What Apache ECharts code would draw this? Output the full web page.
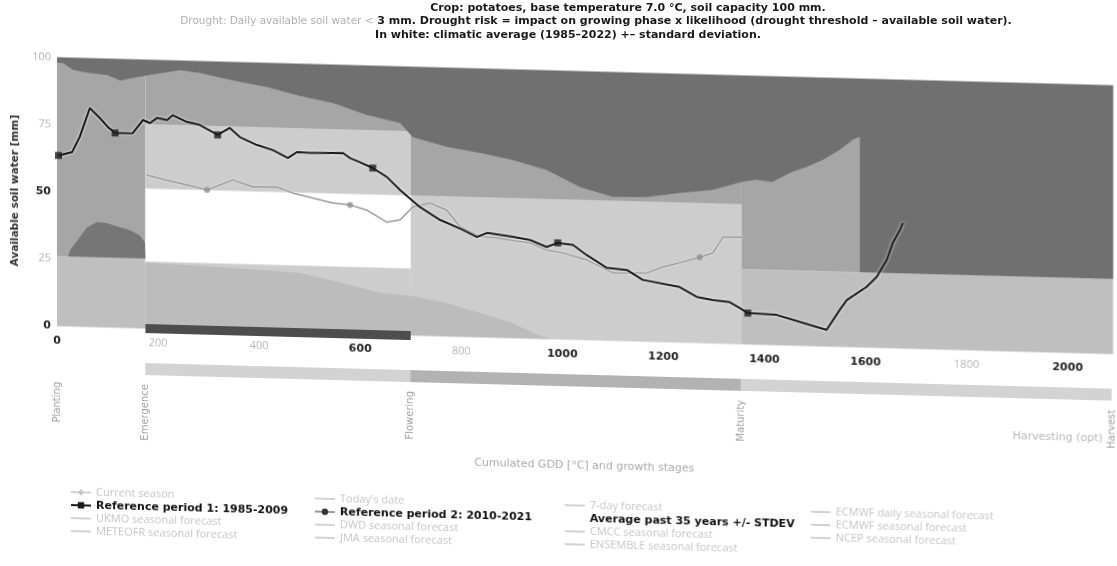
<!DOCTYPE html>
<html><head><meta charset="utf-8">
<script src="https://cdn.jsdelivr.net/npm/echarts@6/dist/echarts.min.js"></script>
<style>
html,body{margin:0;padding:0;background:#fff;overflow:hidden}
#c{width:1117px;height:566px;transform:skewY(1.52deg);transform-origin:558.5px 283px}
#t{position:absolute;left:0;top:0;width:1117px;height:48px;pointer-events:none}
</style>
</head><body><div id="c"></div><div id="t"></div>
<script>
// ---------- data ----------
const titleLine1 = 'Crop: potatoes, base temperature 7.0 °C, soil capacity 100 mm.';
const titleLine2a = 'Drought: Daily available soil water <';
const titleLine2b = ' 3 mm. Drought risk = impact on growing phase x likelihood (drought threshold – available soil water).';
const titleLine3 = 'In white: climatic average (1985–2022) +– standard deviation.';
const yAxisName = 'Available soil water [mm]';
const xAxisName = 'Cumulated GDD [°C] and growth stages';
const harvestNote = 'Harvesting (opt)';

const stageNames = ['Planting', 'Emergence', 'Flowering', 'Maturity', 'Harvest'];
const stageGDD = [0, 175, 700, 1355, 2090];

// [fromGDD, toGDD, lowMM, highMM, riskLevel]
const riskBands = [
  [0, 175, 0, 26, 2], [0, 175, 26, 100, 3],
  [175, 700, 0, 25, 1], [175, 700, 25, 52, 0], [175, 700, 52, 76, 1], [175, 700, 76, 100, 3],
  [700, 1355, 0, 52, 1], [700, 1355, 52, 100, 3],
  [1355, 2090, 0, 28, 2], [1355, 2090, 28, 100, 3]
];
// [fromGDD, toGDD, level]
const stageBar = [[175, 700, 1], [700, 1355, 3], [1355, 2090, 1]];

const upperEnvelope = [[0,98],[12,97.9],[32,95.4],[60,94.5],[99,93.9],[125,91.9],[150,93],[184,94.3],[243,96.4],[283,95.5],[350,93],[415,91],[480,88],[546,85.7],[613,81.6],[679,78.9],[704,73.8],[771,70.5],[837,68.6],[902,66.3],[969,62.9],[1035,56.9],[1100,53.5],[1167,53.8],[1232,55.7],[1298,57.2],[1357,60.5],[1385,61.3],[1416,60.7],[1450,64.2],[1484,66.6],[1515,69.3],[1549,73.2],[1575,77.2],[1589,78.3],[1589,28],[2090,28]];
const lowerEnvelope = [[175,24.5],[260,24],[350,23.4],[480,22.2],[580,18.2],[640,15.5],[700,14.8],[771,12.5],[837,9.1],[902,5.7],[950,1.5],[980,0]];
const emergenceHump = [[22,26],[26,28.4],[40,32],[59,36.9],[79,39.1],[99,38.8],[125,37.4],[144,36.4],[164,34.6],[174,32],[175,26]];
const humpBase = 26;

const refPeriod1 = [[3,63.5],[30,64.9],[45,70.6],[65,81.4],[85,77.8],[101,74.5],[115,72.4],[150,72.5],[170,77.5],[184,76.4],[198,78.4],[218,77.7],[229,79.6],[257,77.2],[283,76.2],[318,72.7],[342,75.4],[362,72.1],[396,69.3],[427,67.6],[457,64.8],[475,67.1],[500,66.9],[566,67.2],[580,65.4],[599,64],[625,61.9],[653,58.7],[679,54],[718,47.9],[758,43.3],[803,39.8],[831,37.3],[851,38.9],[902,37.7],[936,36.7],[969,34.3],[991,35.9],[1021,35.3],[1048,31.7],[1088,27.1],[1128,26.5],[1159,23],[1232,20.7],[1266,17.2],[1298,16.2],[1331,15.6],[1351,13.5],[1367,11.7],[1424,11.3],[1470,8.9],[1523,6.2],[1549,13.8],[1563,17.5],[1602,22.6],[1622,26.4],[1642,32.8],[1654,39.2],[1668,44.1],[1674,46.7]];
const refPeriod1Markers = [[3,63.5],[115,72.4],[318,72.7],[625,61.9],[991,35.9],[1367,11.7]];
const refPeriod2 = [[178,57.1],[218,55.3],[257,53.8],[297,52.1],[348,56.1],[388,53.7],[435,53.9],[467,51.8],[506,50.2],[546,48.5],[580,48],[613,46.2],[653,41.9],[679,42.9],[704,47.8],[738,49.5],[771,47],[797,41.1],[837,37.5],[870,37.2],[936,35.6],[969,33.2],[1001,32.2],[1048,29.9],[1100,25.3],[1167,25.6],[1199,28],[1232,29.7],[1272,32],[1298,33.7],[1318,39.7],[1357,39.9]];
const refPeriod2Markers = [[297,52.1],[580,48],[1272,32]];
const droughtPhase = [[175,0],[700,0]];

const legendCols = [
  ['Current season', 'Reference period 1: 1985-2009', 'UKMO seasonal forecast', 'METEOFR seasonal forecast'],
  ["Today's date", 'Reference period 2: 2010-2021', 'DWD seasonal forecast', 'JMA seasonal forecast'],
  ['7-day forecast', 'Average past 35 years +/- STDEV', 'CMCC seasonal forecast', 'ENSEMBLE seasonal forecast'],
  ['ECMWF daily seasonal forecast', 'ECMWF seasonal forecast', 'NCEP seasonal forecast']
];
const activeSeries = ['Reference period 1: 1985-2009', 'Reference period 2: 2010-2021', 'Average past 35 years +/- STDEV'];

// ---------- styles ----------
const FONT = '"Open Sans", "DejaVu Sans", sans-serif';
const FONT_B = '"DejaVu Sans", sans-serif';
const bandColors = ['#ffffff', '#cdcdcd', '#bfbfbf', '#a6a6a6', '#707070'];
const barColors = ['#ffffff', '#d3d3d3', '#c4c4c4', '#b2b2b2'];
const fadedXTicks = [200, 400, 800, 1800];
const fadedYTicks = [25, 75, 100];
const legendLeft = [70, 314, 564, 810];
const GDD_MAX = 2090;

function bandItem(params, api) {
  const p0 = api.coord([api.value(0), api.value(3)]);
  const p1 = api.coord([api.value(1), api.value(2)]);
  return {type: 'rect', shape: {x: p0[0], y: p0[1], width: p1[0] - p0[0], height: p1[1] - p0[1]},
    style: {fill: bandColors[api.value(4)]}};
}
function barItem(params, api) {
  const p0 = api.coord([api.value(0), 1]);
  const p1 = api.coord([api.value(1), 0]);
  return {type: 'rect', shape: {x: p0[0], y: p0[1], width: p1[0] - p0[0], height: p1[1] - p0[1]},
    style: {fill: barColors[api.value(2)]}};
}

const emptySeries = [];
legendCols.flat().forEach(n => {
  if (n === 'Reference period 1: 1985-2009' || n === 'Reference period 2: 2010-2021') return;
  emptySeries.push({
    name: n, type: 'line', data: [],
    symbol: n === 'Current season' ? 'diamond' : (n === 'Average past 35 years +/- STDEV' ? 'circle' : 'line'),
    color: n === 'Average past 35 years +/- STDEV' ? '#ffffff' : '#555'
  });
});

// ---------- title layer (not skewed) ----------
const boldTitle = {fontFamily: FONT_B, fontWeight: 'bold', fontSize: 11, color: '#1a1a1a', lineHeight: 13};
const titleChart = echarts.init(document.getElementById('t'), null, {renderer: 'canvas'});
titleChart.setOption({
  animation: false,
  title: [
    {text: titleLine1, left: 628, top: 8, textAlign: 'center', textVerticalAlign: 'middle', padding: 0, textStyle: boldTitle},
    {text: '{f|' + titleLine2a + '}{d|' + titleLine2b + '}', left: 596, top: 21, textAlign: 'center', textVerticalAlign: 'middle', padding: 0,
      textStyle: {lineHeight: 13, rich: {
        f: {fontFamily: FONT_B, fontWeight: 'normal', fontSize: 10.5, color: '#b0b0b0', lineHeight: 13},
        d: {fontFamily: FONT_B, fontWeight: 'bold', fontSize: 11, color: '#1a1a1a', lineHeight: 13}}}},
    {text: titleLine3, left: 568, top: 35, textAlign: 'center', textVerticalAlign: 'middle', padding: 0, textStyle: boldTitle}
  ]
});

// ---------- main chart (skewed like the photographed page) ----------
const chart = echarts.init(document.getElementById('c'), null, {renderer: 'canvas'});
const option = {
  animation: false,
  backgroundColor: '#fff',
  textStyle: {fontFamily: FONT},
  title: [
    {text: harvestNote, left: 1103, top: 424, textAlign: 'right', textVerticalAlign: 'middle', padding: 0,
      textStyle: {fontFamily: FONT_B, fontWeight: 'normal', fontSize: 11, color: '#b8b8b8', lineHeight: 13}}
  ],
  grid: [
    {left: 57, top: 70.5, width: 1056.5, height: 269},
    {left: 57, top: 374, width: 1056.5, height: 12}
  ],
  xAxis: [
    {type: 'value', gridIndex: 0, min: 0, max: GDD_MAX, interval: 200,
      axisLine: {show: false}, axisTick: {show: false}, splitLine: {show: false},
      axisLabel: {showMaxLabel: false, margin: 9,
        formatter: v => (v % 200 !== 0) ? '' : (fadedXTicks.includes(v) ? '{f|' + v + '}' : '{d|' + v + '}'),
        rich: {d: {fontSize: 11, fontWeight: 'bold', color: '#222', fontFamily: FONT_B},
               f: {fontSize: 11, color: '#b5b5b5', fontFamily: FONT}}}},
    {type: 'value', gridIndex: 1, min: 0, max: GDD_MAX,
      axisLine: {show: false}, axisTick: {show: false}, splitLine: {show: false},
      name: xAxisName, nameLocation: 'middle', nameGap: 74,
      nameTextStyle: {color: '#a8a8a8', fontSize: 11, fontFamily: FONT_B},
      axisLabel: {customValues: stageGDD, rotate: 90, margin: 9, fontSize: 10, color: '#a0a0a0', fontFamily: FONT_B,
        showMinLabel: true, showMaxLabel: true,
        formatter: v => stageNames[stageGDD.indexOf(v)] || ''}}
  ],
  yAxis: [
    {type: 'value', gridIndex: 0, min: 0, max: 100, interval: 25,
      axisLine: {show: false}, axisTick: {show: false}, splitLine: {show: false},
      name: yAxisName, nameLocation: 'middle', nameGap: 34,
      nameTextStyle: {fontSize: 10.5, fontWeight: 'bold', color: '#333', fontFamily: FONT_B},
      axisLabel: {margin: 6,
        formatter: v => fadedYTicks.includes(v) ? '{f|' + v + '}' : '{d|' + v + '}',
        rich: {d: {fontSize: 11, fontWeight: 'bold', color: '#222', fontFamily: FONT_B},
               f: {fontSize: 11, color: '#b5b5b5', fontFamily: FONT}}}},
    {type: 'value', gridIndex: 1, min: 0, max: 1, show: false}
  ],
  legend: legendCols.map((names, i) => ({
    orient: 'vertical', left: legendLeft[i], top: 499, padding: 0,
    itemWidth: 20, itemHeight: 8, itemGap: 1,
    inactiveColor: '#c4c4c4', inactiveBorderColor: '#c4c4c4',
    textStyle: {fontFamily: FONT, fontSize: 11, color: '#c4c4c4', lineHeight: 12},
    data: names.map(n => activeSeries.includes(n)
      ? {name: n, textStyle: {fontWeight: 'bold', color: '#111', fontFamily: FONT_B}} : {name: n}),
    selected: Object.fromEntries(names.map(n => [n, activeSeries.includes(n)]))
  })),
  series: [
    {name: 'risk bands', type: 'custom', xAxisIndex: 0, yAxisIndex: 0, renderItem: bandItem,
      data: riskBands, encode: {x: [0, 1], y: [2, 3]}, z: 0, silent: true},
    {name: 'upper envelope', type: 'line', data: upperEnvelope, symbol: 'none', silent: true, z: 1,
      lineStyle: {width: 0}, areaStyle: {color: '#707070', opacity: 1, origin: 'end'}},
    {name: 'lower envelope', type: 'line', data: lowerEnvelope, symbol: 'none', silent: true, z: 1,
      lineStyle: {width: 0}, areaStyle: {color: '#bcbcbc', opacity: 1, origin: 'start'}},
    {name: 'emergence', type: 'line', data: emergenceHump, symbol: 'none', silent: true, z: 1,
      lineStyle: {width: 0}, areaStyle: {color: '#767676', opacity: 1, origin: humpBase}},
    {name: 'drought phase', type: 'line', data: droughtPhase, symbol: 'none', silent: true, z: 2, clip: false,
      lineStyle: {width: 9, color: '#4d4d4d', cap: 'butt'}},
    {name: 'Reference period 2: 2010-2021', type: 'line', data: refPeriod2, symbol: 'circle', symbolSize: 6,
      showSymbol: false, z: 3, itemStyle: {color: '#333'},
      lineStyle: {width: 1.5, color: '#9a9a9a', shadowColor: 'rgba(255,255,255,0.8)', shadowBlur: 2}},
    {name: 'Reference period 2: 2010-2021', type: 'scatter', data: refPeriod2Markers, symbol: 'circle', symbolSize: 6,
      z: 4, itemStyle: {color: '#8f8f8f'}},
    {name: 'Reference period 1: 1985-2009', type: 'line', data: refPeriod1, symbol: 'rect', symbolSize: 7,
      showSymbol: false, z: 5, itemStyle: {color: '#1a1a1a'},
      lineStyle: {width: 2, color: '#1a1a1a', shadowColor: 'rgba(255,255,255,0.9)', shadowBlur: 3}},
    {name: 'Reference period 1: 1985-2009', type: 'scatter', data: refPeriod1Markers, symbol: 'rect', symbolSize: 7,
      z: 6, itemStyle: {color: '#1a1a1a'}},
    {name: 'stage bar', type: 'custom', xAxisIndex: 1, yAxisIndex: 1, renderItem: barItem,
      data: stageBar, encode: {x: [0, 1], y: 2}, silent: true}
  ].concat(emptySeries)
};
chart.setOption(option);
</script>
</body></html>
